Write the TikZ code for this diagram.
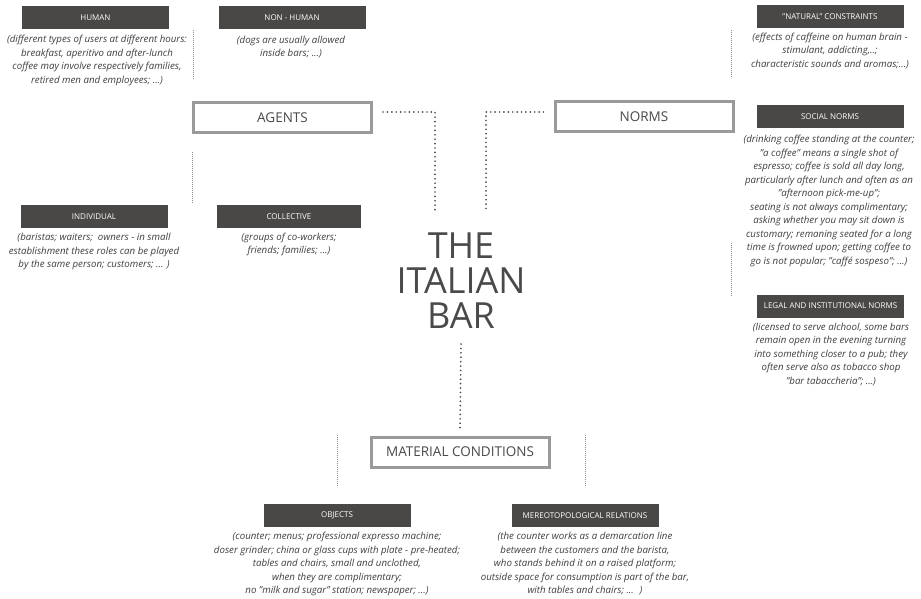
\documentclass[tikz,border=0pt]{standalone}
\usepackage{fontspec}
\setmainfont{Open Sans}
\begin{document}
\begin{tikzpicture}[x=1pt,y=-1pt,
  hdr/.style={fill=hdrgray,text=white,minimum width=147pt,minimum height=23pt,inner sep=0pt,font=\fontsize{8}{9}\selectfont},
  desc/.style={align=center,text=desctext,inner sep=0pt,font=\fontsize{9.7}{13.5}\selectfont\itshape},
  bigbox/.style={draw=boxgray,line width=3pt,fill=white,minimum width=178pt,minimum height=30pt,inner sep=0pt,text=titletext,font=\fontsize{13.5}{15}\selectfont},
  bigdots/.style={draw=dotgray,line width=1.9pt,line cap=round,dash pattern=on 0pt off 4.4pt},
  thindots/.style={draw=thingray,line width=0.7pt,dash pattern=on 0.7pt off 1.3pt}
]
\definecolor{hdrgray}{HTML}{4A4846}
\definecolor{desctext}{HTML}{3E3E3E}
\definecolor{boxgray}{HTML}{9A9A9A}
\definecolor{titletext}{HTML}{4A4A4A}
\definecolor{dotgray}{HTML}{4A4A4A}
\definecolor{thingray}{HTML}{8A8A8A}
\useasboundingbox (0,0) rectangle (921,599);

% big boxes
\node[bigbox] (agents) at (282.5,117.5) {AGENTS};
\node[bigbox] (norms) at (644,116.5) {NORMS};
\node[bigbox] (material) at (460,452) {MATERIAL CONDITIONS};

% center title
\node[align=center,text=titletext,inner sep=0pt,font=\fontsize{36}{35}\selectfont] (title) at (461,281) {THE\\ITALIAN\\BAR};

% header boxes
\node[hdr] (human) at (95.5,17.5) {HUMAN};
\node[hdr] (nonhuman) at (292,17.5) {NON - HUMAN};
\node[hdr] (natural) at (830,16.5) {"NATURAL" CONSTRAINTS};
\node[hdr] (social) at (830,116.5) {SOCIAL NORMS};
\node[hdr] (legal) at (830.5,306) {LEGAL AND INSTITUTIONAL NORMS};
\node[hdr] (individual) at (94,216.5) {INDIVIDUAL};
\node[hdr,minimum width=144pt] (collective) at (289,216.5) {COLLECTIVE};
\node[hdr] (objects) at (337,515.5) {OBJECTS};
\node[hdr] (mereo) at (585,515.5) {MEREOTOPOLOGICAL RELATIONS};

% descriptions
\node[desc] (humand) at (97,60.5) {(different types of users at different hours:\\breakfast, aperitivo and after-lunch\\coffee may involve respectively families,\\retired men and employees; ...)};
\node[desc] (nonhumand) at (291,47) {(dogs are usually allowed\\inside bars; ...)};
\node[desc] (naturald) at (830,51) {(effects of caffeine on human brain -\\stimulant, addicting,..;\\characteristic sounds and aromas;...)};
\node[desc] (sociald) at (829,201) {(drinking coffee standing at the counter;\\"a coffee" means a single shot of\\espresso; coffee is sold all day long,\\particularly after lunch and often as an\\"afternoon pick-me-up";\\seating is not always complimentary;\\asking whether you may sit down is\\customary; remaning seated for a long\\time is frowned upon; getting coffee to\\go is not popular; "caffé sospeso"; ...)};
\node[desc] (legald) at (831,354.5) {(licensed to serve alchool, some bars\\remain open in the evening turning\\into something closer to a pub; they\\often serve also as tobacco shop\\"bar tabaccheria"; ...)};
\node[desc] (individuald) at (94,251.5) {(baristas; waiters;~ owners - in small\\establishment these roles can be played\\by the same person; customers; ... )};
\node[desc] (collectived) at (289,244.5) {(groups of co-workers;\\friends; families; ...)};
\node[desc] (objectsd) at (337,564) {(counter; menus; professional expresso machine;\\doser grinder; china or glass cups with plate - pre-heated;\\tables and chairs, small and unclothed,\\when they are complimentary;\\no "milk and sugar" station; newspaper; ...)};
\node[desc] (mereod) at (585,564) {(the counter works as a demarcation line\\between the customers and the barista,\\who stands behind it on a raised platform;\\outside space for consumption is part of the bar,\\with tables and chairs; ...~ )};

% dotted connectors
\coordinate (aturn) at (435,112);
\coordinate (nturn) at (486,112);
\draw[bigdots] ([xshift=10pt,yshift=5.5pt]agents.east) -- (aturn) -- (435,210);
\draw[bigdots] ([xshift=-10pt,yshift=4.5pt]norms.west) -- (nturn) -- (486,210);
\draw[bigdots] ([yshift=-15pt]title.south) -- ([yshift=6pt]material.north);

% thin dotted separators
\draw[thindots] (193,30) -- (193,80);
\draw[thindots] (192,152) -- (192,203);
\draw[thindots] (731,30) -- (731,78);
\draw[thindots] (731,243) -- (731,297);
\draw[thindots] (337,435) -- (337,487);
\draw[thindots] (585,435) -- (585,487);
\end{tikzpicture}
\end{document}
